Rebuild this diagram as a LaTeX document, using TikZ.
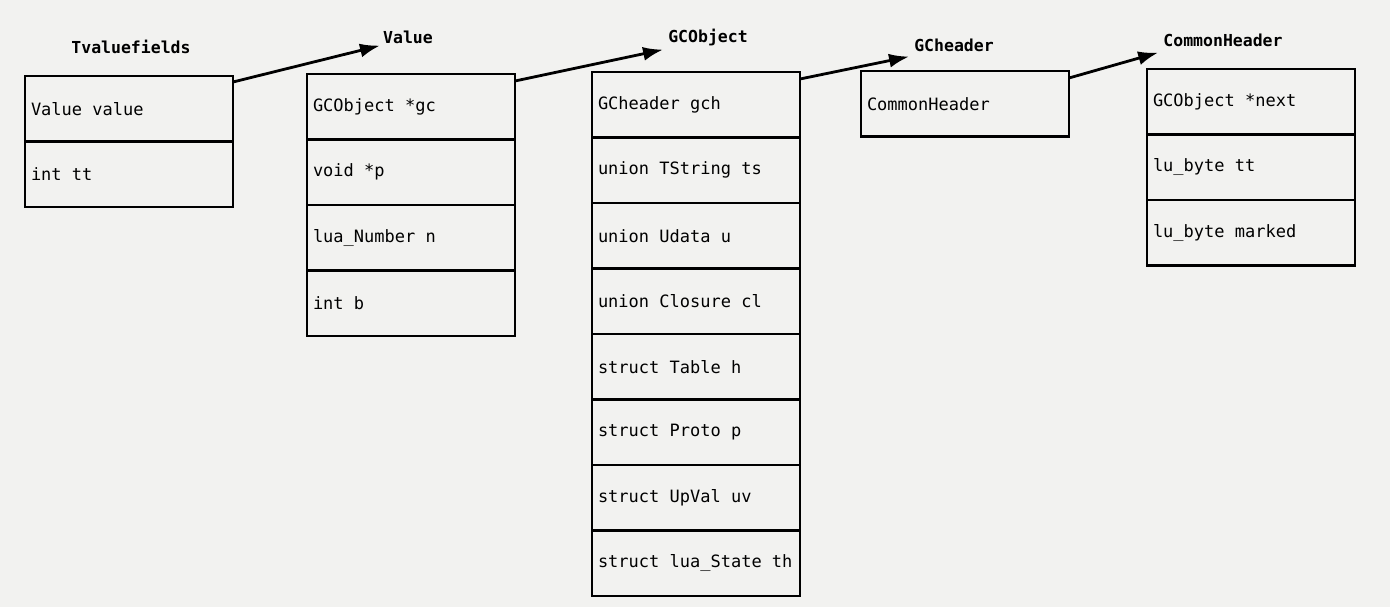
\documentclass[tikz,border=0pt]{standalone}
\usepackage{fontspec}
\newfontfamily\codefont{DejaVu Sans Mono}
\usetikzlibrary{positioning,arrows.meta}
\definecolor{paper}{RGB}{242,242,240}
\newcommand{\cellfont}{\codefont\fontsize{17}{18}\selectfont}
\newcommand{\titlefont}{\codefont\bfseries\fontsize{16.5}{18}\selectfont}

\begin{document}
\begin{tikzpicture}[x=1pt,y=-1pt,
		cell/.style={draw, line width=2.8pt, outer sep=0pt, minimum height=65.5pt,
			inner xsep=6pt, inner ysep=0pt, text width=196pt, align=flush left, font=\cellfont},
		title/.style={inner sep=0pt, font=\titlefont},
		link/.style={line width=2.8pt, -{Latex[length=20pt,width=14pt]}}]
				
				% Page
				\fill[paper] (0,0) rectangle (1390,607);
				\useasboundingbox (0,0) rectangle (1390,607);

				% Titles
				\node[title] (tvT) at (131,47) {Tvaluefields};
				\node[title] (vT) at (408,37) {Value};
				\node[title] (gT) at (708,38) {GCObject};
				\node[title] (hT) at (954,45) {GCheader};
				\node[title] (cT) at (1223,40) {CommonHeader};

				% Tvaluefields
				\node[cell, anchor=north west] (tv1) at (25,76) {Value value};
				\node[cell, below=0pt of tv1] (tv2) {int tt};

				% Value
				\node[cell, anchor=north west] (v1) at (307,74) {GCObject *gc};
				\node[cell, below=0pt of v1] (v2) {void *p};
				\node[cell, below=0pt of v2] (v3) {lua\_Number n};
				\node[cell, below=0pt of v3] (v4) {int b};

				% GCObject
				\node[cell, anchor=north west] (g1) at (592,72) {GCheader gch};
				\node[cell, below=0pt of g1] (g2) {union TString ts};
				\node[cell, below=0pt of g2] (g3) {union Udata u};
				\node[cell, below=0pt of g3] (g4) {union Closure cl};
				\node[cell, below=0pt of g4] (g5) {struct Table h};
				\node[cell, below=0pt of g5] (g6) {struct Proto p};
				\node[cell, below=0pt of g6] (g7) {struct UpVal uv};
				\node[cell, below=0pt of g7] (g8) {struct lua\_State th};

				% GCheader
				\node[cell, anchor=north west] (h1) at (861,71) {CommonHeader};

				% CommonHeader
				\node[cell, anchor=north west] (c1) at (1147,69) {GCObject *next};
				\node[cell, below=0pt of c1] (c2) {lu\_byte tt};
				\node[cell, below=0pt of c2] (c3) {lu\_byte marked};

				% Links
				\draw[link] ([yshift=-6pt]tv1.north east) -- ([xshift=-3pt,yshift=-2pt]vT.south west);
				\draw[link] ([yshift=-7pt]v1.north east) -- ([xshift=-5pt,yshift=-3pt]gT.south west);
				\draw[link] ([yshift=-7pt]g1.north east) -- ([xshift=-5pt,yshift=-5pt]hT.south west);
				\draw[link] ([yshift=-7pt]h1.north east) -- ([xshift=-5pt,yshift=-6pt]cT.south west);
			\end{tikzpicture}
\end{document}
